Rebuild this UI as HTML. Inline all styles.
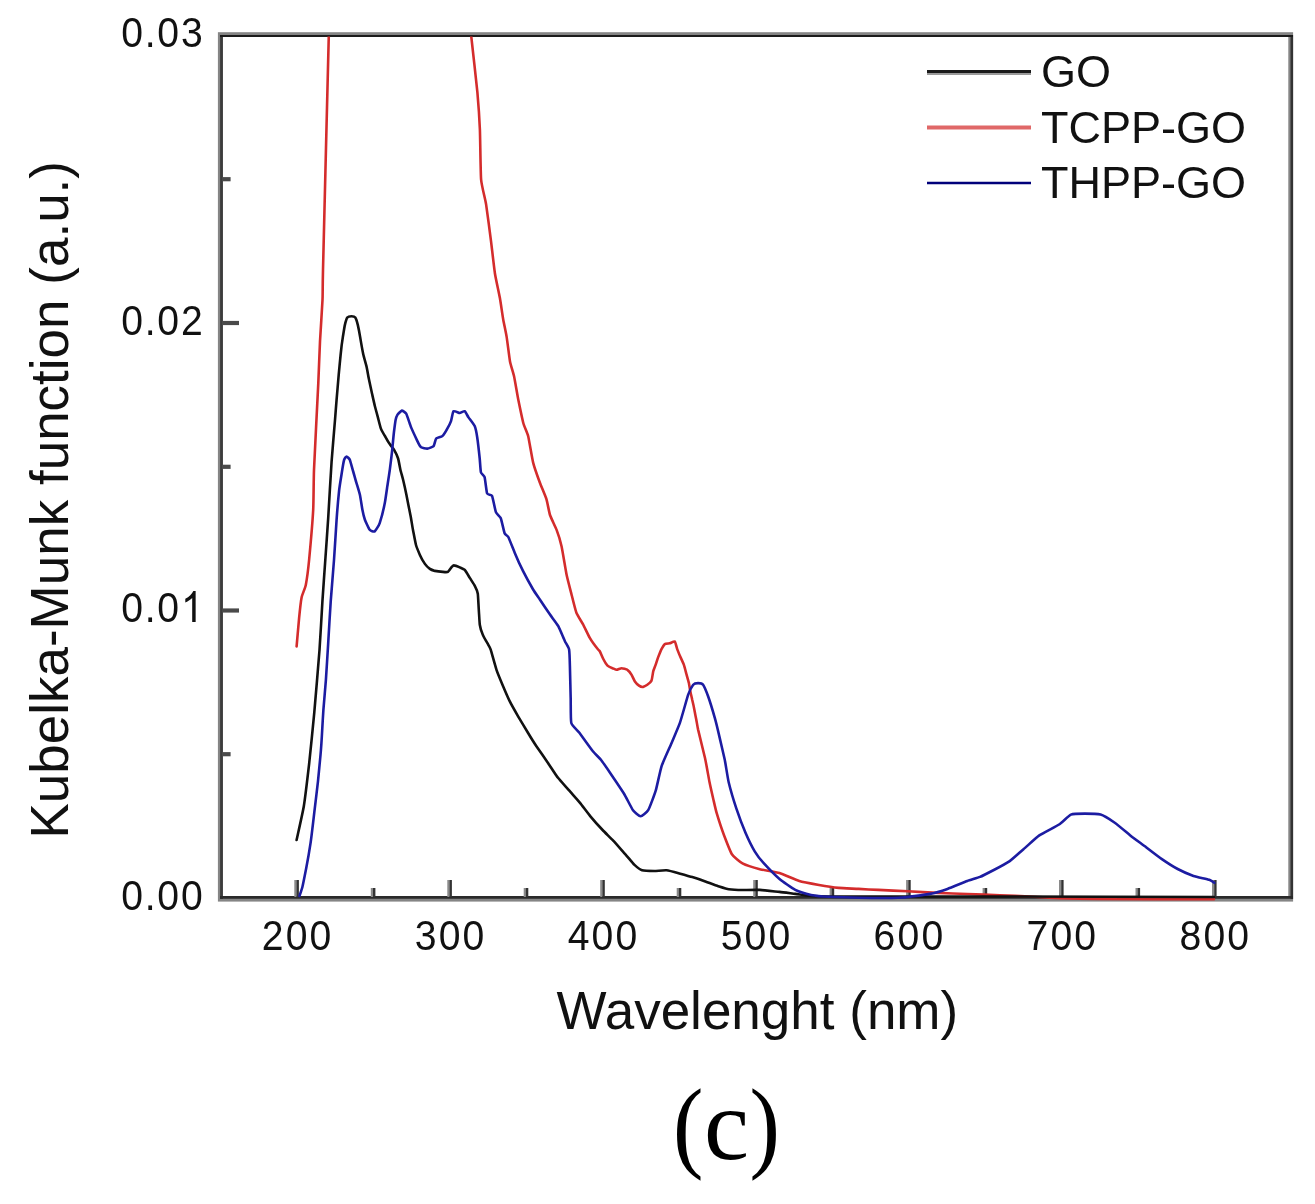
<!DOCTYPE html>
<html><head><meta charset="utf-8"><style>
html,body{margin:0;padding:0;background:#fff;}
body{width:1315px;height:1204px;overflow:hidden;}
svg{display:block;filter:blur(0.45px);}
text{font-family:"Liberation Sans",sans-serif;fill:#111;}
text.serif{font-family:"Liberation Serif",serif;fill:#000;}
</style></head><body>
<svg width="1315" height="1204" viewBox="0 0 1315 1204">
<rect x="0" y="0" width="1315" height="1204" fill="#fff"/>
<defs><clipPath id="pc"><rect x="222.5" y="36.5" width="1067.5" height="864.5"/></clipPath></defs>
<g fill="none">
<rect x="220.3" y="34.6" width="1070.4" height="864.6" stroke="#858585" stroke-width="4.8"/>
<line x1="221.5" y1="35" x2="221.5" y2="899" stroke="#3c3c3c" stroke-width="2.8"/>
<line x1="1291.8" y1="35" x2="1291.8" y2="899" stroke="#333" stroke-width="2.6"/>
<line x1="220" y1="36" x2="1293" y2="36" stroke="#1c1c1c" stroke-width="2.2"/>
<line x1="220" y1="897.4" x2="1293" y2="897.4" stroke="#2a2a2a" stroke-width="2.8"/>
</g>
<g stroke="#4a4a4a" stroke-width="4.2">
<line x1="295.5" y1="880" x2="295.5" y2="897" stroke="#8a8a8a" stroke-width="2.4"/><line x1="297.7" y1="880" x2="297.7" y2="897" stroke="#333" stroke-width="2.4"/><line x1="372.0" y1="888" x2="372.0" y2="897" stroke="#8a8a8a" stroke-width="2.4"/><line x1="374.2" y1="888" x2="374.2" y2="897" stroke="#333" stroke-width="2.4"/><line x1="448.5" y1="880" x2="448.5" y2="897" stroke="#8a8a8a" stroke-width="2.4"/><line x1="450.7" y1="880" x2="450.7" y2="897" stroke="#333" stroke-width="2.4"/><line x1="524.9" y1="888" x2="524.9" y2="897" stroke="#8a8a8a" stroke-width="2.4"/><line x1="527.1" y1="888" x2="527.1" y2="897" stroke="#333" stroke-width="2.4"/><line x1="601.4" y1="880" x2="601.4" y2="897" stroke="#8a8a8a" stroke-width="2.4"/><line x1="603.6" y1="880" x2="603.6" y2="897" stroke="#333" stroke-width="2.4"/><line x1="677.9" y1="888" x2="677.9" y2="897" stroke="#8a8a8a" stroke-width="2.4"/><line x1="680.1" y1="888" x2="680.1" y2="897" stroke="#333" stroke-width="2.4"/><line x1="754.4" y1="880" x2="754.4" y2="897" stroke="#8a8a8a" stroke-width="2.4"/><line x1="756.6" y1="880" x2="756.6" y2="897" stroke="#333" stroke-width="2.4"/><line x1="830.8" y1="888" x2="830.8" y2="897" stroke="#8a8a8a" stroke-width="2.4"/><line x1="833.0" y1="888" x2="833.0" y2="897" stroke="#333" stroke-width="2.4"/><line x1="907.3" y1="880" x2="907.3" y2="897" stroke="#8a8a8a" stroke-width="2.4"/><line x1="909.5" y1="880" x2="909.5" y2="897" stroke="#333" stroke-width="2.4"/><line x1="983.8" y1="888" x2="983.8" y2="897" stroke="#8a8a8a" stroke-width="2.4"/><line x1="986.0" y1="888" x2="986.0" y2="897" stroke="#333" stroke-width="2.4"/><line x1="1060.2" y1="880" x2="1060.2" y2="897" stroke="#8a8a8a" stroke-width="2.4"/><line x1="1062.4" y1="880" x2="1062.4" y2="897" stroke="#333" stroke-width="2.4"/><line x1="1136.7" y1="888" x2="1136.7" y2="897" stroke="#8a8a8a" stroke-width="2.4"/><line x1="1138.9" y1="888" x2="1138.9" y2="897" stroke="#333" stroke-width="2.4"/><line x1="1213.2" y1="880" x2="1213.2" y2="897" stroke="#8a8a8a" stroke-width="2.4"/><line x1="1215.4" y1="880" x2="1215.4" y2="897" stroke="#333" stroke-width="2.4"/><line x1="222" y1="754.2" x2="230.6" y2="754.2" /><line x1="222" y1="610.5" x2="239" y2="610.5" /><line x1="222" y1="466.8" x2="230.6" y2="466.8" /><line x1="222" y1="323.0" x2="239" y2="323.0" /><line x1="222" y1="179.2" x2="230.6" y2="179.2" />
</g>
<g clip-path="url(#pc)" fill="none" stroke-linejoin="round" stroke-linecap="round">
<path d="M296.6,646.4 C296.8,644.0 298.7,622.3 299.1,618.2 C299.5,614.1 301.0,600.2 301.6,597.4 C302.2,594.6 305.2,588.0 305.8,584.9 C306.4,581.8 308.5,566.3 309.1,560.0 C309.7,553.7 312.8,517.3 313.2,509.8 C313.6,502.3 313.6,480.6 314.0,470.0 C314.4,459.4 317.8,393.8 318.3,383.1 C318.8,372.4 319.6,348.4 320.0,341.5 C320.4,334.6 322.2,306.0 322.5,300.0 C322.8,294.0 322.5,292.1 323.0,270.0 C323.5,247.9 328.3,54.6 328.8,35.0" stroke="#d42c2c" stroke-width="2.6"/>
<path d="M471.1,35.0 C471.6,39.8 476.7,84.4 477.4,92.3 C478.1,100.2 479.6,122.4 479.9,129.7 C480.2,137.0 480.6,173.3 481.1,179.5 C481.6,185.7 485.3,199.2 486.1,204.4 C486.9,209.6 490.4,236.1 491.1,241.8 C491.8,247.5 494.2,268.5 494.9,273.2 C495.6,277.9 499.2,294.2 499.9,298.1 C500.6,302.0 502.7,316.8 503.3,320.0 C503.9,323.2 506.0,333.1 506.6,336.6 C507.2,340.1 509.4,358.2 510.0,361.5 C510.6,364.8 513.4,373.3 514.1,376.5 C514.8,379.7 517.5,395.8 518.3,399.7 C519.1,403.6 522.5,419.9 523.3,423.0 C524.1,426.1 527.4,433.0 528.2,436.3 C529.0,439.6 532.2,459.0 533.2,462.9 C534.2,466.8 538.8,479.8 539.9,482.8 C541.0,485.8 545.7,496.7 546.5,499.4 C547.3,502.1 549.2,512.5 550.0,515.0 C550.8,517.5 555.6,527.3 556.6,529.9 C557.6,532.5 560.8,542.8 561.6,546.5 C562.4,550.2 565.8,570.8 566.6,574.8 C567.4,578.8 570.8,591.5 571.6,594.7 C572.4,597.9 575.5,610.5 576.5,613.0 C577.5,615.5 582.1,622.5 583.2,624.6 C584.3,626.7 588.6,635.8 589.8,637.9 C591.0,640.0 597.2,648.4 598.1,649.5 C599.0,650.6 599.6,650.8 600.0,651.6 C600.4,652.4 602.7,657.8 603.3,659.0 C603.9,660.2 606.7,664.9 607.5,665.7 C608.3,666.5 611.7,667.9 612.5,668.2 C613.3,668.5 615.8,669.8 616.6,669.8 C617.4,669.8 620.7,668.2 621.6,668.2 C622.5,668.2 626.6,669.2 627.4,669.8 C628.2,670.3 631.0,673.8 631.6,674.8 C632.2,675.8 634.3,680.6 634.9,681.5 C635.5,682.4 638.3,685.1 639.0,685.6 C639.7,686.1 642.5,687.0 643.2,686.9 C643.9,686.8 646.6,685.3 647.3,684.8 C648.0,684.3 651.0,681.7 651.5,680.6 C652.0,679.5 652.9,672.8 653.2,671.5 C653.5,670.2 655.2,666.1 655.6,664.9 C656.0,663.7 657.6,658.7 658.1,657.4 C658.6,656.1 660.9,650.2 661.5,649.1 C662.1,648.0 664.1,644.6 664.8,644.1 C665.5,643.6 669.0,643.5 669.8,643.3 C670.6,643.1 674.2,641.1 674.8,641.6 C675.4,642.1 676.7,647.8 677.2,649.1 C677.7,650.4 680.0,656.1 680.6,657.4 C681.2,658.7 683.4,663.5 683.9,664.9 C684.4,666.3 686.0,672.5 686.4,674.0 C686.8,675.5 688.6,681.6 688.9,683.1 C689.2,684.6 690.2,690.9 690.5,692.3 C690.8,693.7 691.9,698.1 692.2,699.7 C692.6,701.3 694.4,709.7 694.7,711.4 C695.0,713.1 696.0,718.2 696.3,719.7 C696.6,721.2 697.4,726.4 698.1,729.6 C698.8,732.8 704.0,753.6 705.0,758.0 C706.0,762.4 708.8,778.5 709.5,782.0 C710.2,785.5 712.9,797.4 713.5,800.0 C714.1,802.6 715.8,810.2 716.7,813.2 C717.6,816.2 723.0,832.6 724.3,836.0 C725.6,839.4 730.4,852.0 731.9,854.3 C733.4,856.6 740.2,862.2 742.5,863.4 C744.8,864.6 756.7,868.4 759.8,869.2 C762.9,870.0 776.2,872.1 779.5,873.1 C782.8,874.1 796.0,880.0 799.3,881.0 C802.6,882.0 815.7,884.4 819.0,885.0 C822.3,885.6 835.5,887.6 838.8,887.9 C842.1,888.2 855.3,888.7 858.6,888.9 C861.9,889.1 874.2,889.7 878.3,889.9 C882.4,890.1 903.1,891.0 908.0,891.3 C912.9,891.5 932.7,892.7 937.6,892.9 C942.5,893.1 962.1,893.8 967.3,894.0 C972.5,894.2 994.8,895.1 1000.0,895.3 C1005.2,895.5 1025.0,896.3 1030.0,896.5 C1035.0,896.7 1054.2,898.0 1060.0,898.2 C1065.8,898.4 1087.2,898.9 1100.0,899.0 C1112.8,899.1 1204.5,899.3 1214.0,899.3" stroke="#d42c2c" stroke-width="2.6"/>
<path d="M296.6,840.0 C297.2,837.1 302.9,812.1 303.9,805.8 C304.9,799.5 308.2,772.0 309.1,764.2 C310.0,756.4 313.4,721.8 314.3,712.3 C315.2,702.8 318.8,659.2 319.5,650.0 C320.2,640.8 321.9,609.1 322.4,601.6 C322.9,594.1 324.8,567.0 325.3,560.0 C325.8,553.0 327.7,526.3 328.2,518.1 C328.7,509.9 331.0,469.7 331.6,461.5 C332.2,453.3 334.6,425.1 335.0,420.0 C335.4,414.9 336.3,403.5 336.6,399.7 C336.9,395.9 338.4,378.6 338.7,374.8 C339.0,371.0 340.4,357.1 340.7,354.0 C341.0,350.9 342.4,339.8 342.8,337.4 C343.2,335.0 344.5,326.6 344.9,324.9 C345.3,323.2 346.8,318.1 347.4,317.4 C347.9,316.7 350.8,316.2 351.5,316.2 C352.2,316.2 354.8,316.7 355.3,317.4 C355.8,318.1 357.4,323.2 357.8,324.9 C358.2,326.6 359.8,335.0 360.2,337.4 C360.6,339.8 362.7,351.6 363.2,354.0 C363.7,356.4 366.0,364.3 366.5,366.4 C367.0,368.5 368.5,377.2 369.0,379.5 C369.5,381.8 371.5,391.3 372.0,393.5 C372.5,395.7 374.4,404.2 374.9,406.2 C375.4,408.2 377.4,415.5 377.9,417.4 C378.4,419.3 380.3,427.0 380.9,428.6 C381.5,430.2 384.6,435.5 385.4,436.8 C386.1,438.1 389.1,443.2 389.9,444.3 C390.6,445.4 393.7,449.1 394.4,450.3 C395.1,451.5 397.6,456.9 398.1,458.5 C398.6,460.1 400.0,467.9 400.4,469.7 C400.8,471.5 402.6,477.7 403.1,479.8 C403.6,481.9 405.8,491.8 406.4,494.8 C407.0,497.8 409.9,512.6 410.5,515.5 C411.1,518.4 412.5,527.5 413.0,530.0 C413.5,532.5 415.4,542.9 416.0,545.0 C416.6,547.1 419.2,553.3 419.9,554.9 C420.6,556.5 424.1,562.7 424.9,563.9 C425.7,565.1 429.1,568.3 429.9,568.9 C430.7,569.5 433.8,570.6 434.9,570.9 C436.0,571.1 441.8,571.8 442.9,571.9 C444.0,572.0 447.2,572.3 447.9,571.9 C448.6,571.5 451.3,567.4 451.8,566.9 C452.3,566.4 453.1,565.4 453.8,565.4 C454.5,565.4 458.9,567.0 459.8,567.4 C460.7,567.8 464.0,569.0 464.8,569.9 C465.6,570.8 469.0,576.6 469.8,577.9 C470.6,579.2 474.1,584.5 474.8,585.8 C475.5,587.1 477.5,591.8 477.8,593.8 C478.1,595.8 478.6,607.2 478.8,609.8 C479.0,612.4 479.5,622.6 479.8,624.7 C480.1,626.8 482.1,633.1 482.8,634.7 C483.5,636.3 487.0,642.5 487.7,643.7 C488.4,644.9 490.0,647.4 490.7,649.6 C491.4,651.8 495.5,666.7 496.5,669.8 C497.5,672.9 502.1,683.8 503.2,686.4 C504.3,689.0 508.6,698.9 509.8,701.4 C511.0,703.9 516.6,713.7 518.1,716.3 C519.6,718.9 526.6,730.5 528.1,733.0 C529.6,735.5 534.7,743.7 536.4,746.2 C538.1,748.7 546.2,760.3 548.0,762.9 C549.8,765.5 556.2,775.5 558.0,777.8 C559.8,780.1 567.3,788.3 569.1,790.4 C570.9,792.5 578.0,800.4 579.8,802.6 C581.6,804.8 588.5,814.0 590.4,816.3 C592.3,818.6 600.7,828.0 602.6,830.0 C604.5,832.0 611.3,838.6 613.2,840.6 C615.1,842.6 623.6,852.3 625.4,854.3 C627.2,856.3 633.1,863.6 634.5,864.9 C635.9,866.2 640.5,869.8 642.1,870.3 C643.8,870.8 652.3,871.0 654.3,871.0 C656.3,871.0 664.5,870.1 666.5,870.3 C668.5,870.5 676.5,872.7 678.6,873.3 C680.8,873.9 690.0,876.4 692.3,877.1 C694.6,877.8 703.8,880.9 706.0,881.7 C708.2,882.5 716.3,885.6 718.2,886.2 C720.1,886.8 726.8,889.0 728.8,889.3 C730.8,889.6 739.9,890.0 742.5,890.0 C745.1,890.0 756.7,889.7 759.8,889.9 C762.9,890.1 776.5,891.6 779.5,891.9 C782.5,892.2 792.8,893.6 795.3,893.9 C797.8,894.2 806.3,895.6 809.2,895.8 C812.1,896.0 822.4,896.4 830.0,896.5 C837.6,896.6 885.8,896.5 900.0,896.5 C914.2,896.5 973.8,896.5 1000.0,896.5 C1026.2,896.5 1196.2,897.0 1214.0,897.0" stroke="#111" stroke-width="2.6"/>
<path d="M299.5,896.0 C299.7,895.2 301.8,889.3 302.4,887.0 C303.0,884.7 305.5,871.9 306.2,868.3 C306.9,864.7 309.8,848.1 310.5,843.4 C311.2,838.7 313.7,817.5 314.3,812.3 C314.9,807.1 317.5,785.9 318.0,781.1 C318.5,776.3 320.1,759.3 320.5,755.0 C320.9,750.7 322.0,733.8 322.2,730.0 C322.4,726.2 323.1,714.0 323.4,709.8 C323.7,705.6 325.5,685.5 325.9,679.9 C326.3,674.3 327.8,649.6 328.2,643.1 C328.6,636.6 330.2,608.5 330.7,601.6 C331.2,594.7 333.5,566.8 334.0,560.0 C334.5,553.2 336.2,525.5 336.6,519.7 C337.0,513.9 338.7,494.4 339.1,490.6 C339.5,486.8 341.2,476.6 341.6,474.0 C342.0,471.4 343.7,461.4 344.1,459.9 C344.5,458.4 346.1,456.5 346.6,456.5 C347.1,456.5 349.3,458.6 349.9,459.9 C350.4,461.1 352.6,469.6 353.2,471.5 C353.8,473.4 355.9,481.2 356.5,483.1 C357.1,485.0 359.4,492.6 359.9,494.8 C360.4,497.0 362.0,507.6 362.4,509.7 C362.8,511.8 364.3,518.0 364.9,519.7 C365.5,521.4 368.9,528.8 369.7,529.8 C370.5,530.8 373.9,532.0 374.7,531.4 C375.5,530.8 378.9,525.5 379.7,523.1 C380.5,520.7 384.2,506.2 384.8,503.1 C385.4,500.0 386.9,489.2 387.3,486.4 C387.7,483.6 389.4,472.9 389.8,469.8 C390.2,466.7 392.0,452.2 392.3,449.1 C392.6,446.0 393.6,434.9 393.9,432.5 C394.2,430.1 395.3,421.5 395.6,420.0 C395.9,418.5 396.9,415.7 397.4,414.9 C397.9,414.1 401.1,410.7 401.8,410.6 C402.5,410.5 405.4,412.3 406.2,413.7 C407.0,415.1 410.2,425.1 411.1,427.4 C412.0,429.7 416.6,439.4 417.4,441.1 C418.2,442.8 420.3,446.7 421.1,447.3 C421.9,447.9 426.3,448.7 427.3,448.6 C428.3,448.5 432.9,446.9 433.6,446.1 C434.3,445.3 435.4,439.4 436.1,438.6 C436.8,437.8 441.4,436.9 442.3,436.1 C443.2,435.3 446.6,429.9 447.3,428.6 C448.0,427.4 450.5,422.6 451.0,421.1 C451.5,419.7 452.8,411.9 453.5,411.2 C454.2,410.5 458.8,413.0 459.7,413.0 C460.6,413.0 464.0,410.8 464.7,411.2 C465.4,411.6 467.7,416.2 468.5,417.4 C469.3,418.6 474.0,424.4 474.7,426.1 C475.4,427.8 476.8,434.6 477.2,437.3 C477.6,440.0 479.4,455.6 479.7,458.5 C480.0,461.4 480.5,470.6 480.9,472.2 C481.3,473.8 484.1,475.4 484.6,477.2 C485.1,479.0 486.5,491.8 487.1,493.4 C487.7,495.0 491.4,494.3 492.1,495.9 C492.8,497.5 495.2,510.2 495.9,512.1 C496.6,514.0 500.1,516.5 500.8,518.3 C501.5,520.1 504.0,531.7 504.6,533.3 C505.2,534.9 507.5,535.4 508.3,537.0 C509.1,538.6 513.6,550.0 514.8,552.9 C516.0,555.8 521.6,568.2 523.1,571.2 C524.6,574.2 531.7,587.1 533.1,589.5 C534.5,591.9 538.6,597.6 540.0,599.7 C541.4,601.8 548.5,612.4 550.0,614.6 C551.5,616.8 557.1,624.0 558.3,626.2 C559.5,628.4 564.0,639.3 564.9,641.2 C565.8,643.1 568.7,647.4 569.1,649.5 C569.5,651.6 569.8,662.0 569.9,666.1 C570.0,670.2 570.6,694.6 570.7,699.3 C570.8,704.0 570.6,720.2 571.3,723.0 C572.0,725.8 577.8,730.6 579.6,733.0 C581.4,735.4 591.1,749.0 592.9,751.2 C594.7,753.5 599.5,758.0 601.1,760.0 C602.7,762.0 609.8,772.4 611.7,775.2 C613.6,778.0 622.1,790.6 623.9,793.5 C625.7,796.4 631.6,808.3 633.0,810.2 C634.4,812.1 639.3,816.3 640.6,816.3 C641.9,816.3 646.9,812.4 648.2,810.2 C649.5,808.0 654.7,794.1 655.8,790.4 C656.9,786.7 660.3,770.1 661.6,766.1 C662.9,762.1 670.1,746.5 671.6,742.9 C673.1,739.3 678.5,726.9 679.9,722.9 C681.3,718.9 687.1,697.9 688.2,694.7 C689.3,691.5 692.4,685.7 693.2,684.7 C694.0,683.7 697.3,683.1 698.1,683.1 C698.9,683.1 702.3,683.6 703.1,684.7 C703.9,685.8 707.1,693.5 708.1,696.3 C709.1,699.1 713.8,714.4 714.8,717.9 C715.8,721.4 718.9,734.4 719.7,737.9 C720.5,741.4 723.9,755.8 724.7,759.5 C725.5,763.2 727.8,778.7 728.8,782.8 C729.8,786.9 735.0,804.5 736.4,808.7 C737.8,812.9 744.1,829.5 745.6,833.0 C747.1,836.5 753.2,848.8 754.7,851.3 C756.2,853.8 761.6,860.9 763.7,863.2 C765.8,865.5 776.9,876.8 779.5,879.0 C782.1,881.2 792.7,888.6 795.3,889.9 C797.9,891.2 808.3,894.3 811.1,894.9 C813.9,895.5 824.9,896.6 828.9,896.8 C832.9,897.0 852.8,897.7 858.6,897.8 C864.4,897.9 892.2,898.1 898.1,897.8 C904.0,897.5 925.6,894.6 929.7,893.9 C933.8,893.2 944.4,890.0 947.5,888.9 C950.6,887.8 964.6,882.0 967.3,881.0 C970.0,880.0 977.8,877.8 980.0,876.9 C982.2,876.0 991.3,871.3 993.8,870.0 C996.3,868.7 1007.2,862.8 1009.7,861.1 C1012.2,859.4 1021.0,851.3 1023.5,849.2 C1026.0,847.1 1036.3,837.5 1039.3,835.4 C1042.3,833.3 1056.5,826.2 1059.1,824.5 C1061.7,822.8 1068.8,815.5 1070.9,814.6 C1073.0,813.7 1082.3,813.6 1084.8,813.6 C1087.3,813.6 1098.1,813.9 1100.6,814.6 C1103.1,815.3 1111.9,820.8 1114.4,822.5 C1116.9,824.2 1127.7,833.3 1130.3,835.4 C1132.9,837.5 1143.5,845.2 1146.1,847.2 C1148.7,849.2 1159.3,857.3 1161.9,859.1 C1164.5,860.9 1175.1,867.6 1177.7,869.0 C1180.3,870.4 1190.9,875.0 1193.5,875.9 C1196.1,876.8 1207.6,879.2 1209.3,879.8 C1211.0,880.4 1213.9,882.5 1214.3,882.8" stroke="#1c1ca2" stroke-width="2.6"/>
</g>
<g font-size="43">
<text transform="translate(272.69,949.5) scale(0.91,1)" text-anchor="middle">2</text><text transform="translate(296.60,949.5) scale(0.91,1)" text-anchor="middle">0</text><text transform="translate(320.51,949.5) scale(0.91,1)" text-anchor="middle">0</text><text transform="translate(425.64,949.5) scale(0.91,1)" text-anchor="middle">3</text><text transform="translate(449.55,949.5) scale(0.91,1)" text-anchor="middle">0</text><text transform="translate(473.46,949.5) scale(0.91,1)" text-anchor="middle">0</text><text transform="translate(578.59,949.5) scale(0.91,1)" text-anchor="middle">4</text><text transform="translate(602.50,949.5) scale(0.91,1)" text-anchor="middle">0</text><text transform="translate(626.41,949.5) scale(0.91,1)" text-anchor="middle">0</text><text transform="translate(731.54,949.5) scale(0.91,1)" text-anchor="middle">5</text><text transform="translate(755.45,949.5) scale(0.91,1)" text-anchor="middle">0</text><text transform="translate(779.36,949.5) scale(0.91,1)" text-anchor="middle">0</text><text transform="translate(884.49,949.5) scale(0.91,1)" text-anchor="middle">6</text><text transform="translate(908.40,949.5) scale(0.91,1)" text-anchor="middle">0</text><text transform="translate(932.31,949.5) scale(0.91,1)" text-anchor="middle">0</text><text transform="translate(1037.44,949.5) scale(0.91,1)" text-anchor="middle">7</text><text transform="translate(1061.35,949.5) scale(0.91,1)" text-anchor="middle">0</text><text transform="translate(1085.26,949.5) scale(0.91,1)" text-anchor="middle">0</text><text transform="translate(1190.39,949.5) scale(0.91,1)" text-anchor="middle">8</text><text transform="translate(1214.30,949.5) scale(0.91,1)" text-anchor="middle">0</text><text transform="translate(1238.21,949.5) scale(0.91,1)" text-anchor="middle">0</text>
<text transform="translate(132.17,909.5) scale(0.91,1)" text-anchor="middle">0</text><text transform="translate(150.10,909.5) scale(0.91,1)" text-anchor="middle">.</text><text transform="translate(168.03,909.5) scale(0.91,1)" text-anchor="middle">0</text><text transform="translate(191.94,909.5) scale(0.91,1)" text-anchor="middle">0</text><text transform="translate(132.17,622.0) scale(0.91,1)" text-anchor="middle">0</text><text transform="translate(150.10,622.0) scale(0.91,1)" text-anchor="middle">.</text><text transform="translate(168.03,622.0) scale(0.91,1)" text-anchor="middle">0</text><path transform="translate(191.94,622.0) scale(0.01911,-0.02100) translate(-569.5,0)" d="M763 0H583V1147Q518 1085 412 1023T222 930V1104Q372 1175 484 1276T643 1472H763V0Z" fill="#111"/><text transform="translate(132.17,334.5) scale(0.91,1)" text-anchor="middle">0</text><text transform="translate(150.10,334.5) scale(0.91,1)" text-anchor="middle">.</text><text transform="translate(168.03,334.5) scale(0.91,1)" text-anchor="middle">0</text><text transform="translate(191.94,334.5) scale(0.91,1)" text-anchor="middle">2</text><text transform="translate(132.17,47.0) scale(0.91,1)" text-anchor="middle">0</text><text transform="translate(150.10,47.0) scale(0.91,1)" text-anchor="middle">.</text><text transform="translate(168.03,47.0) scale(0.91,1)" text-anchor="middle">0</text><text transform="translate(191.94,47.0) scale(0.91,1)" text-anchor="middle">3</text>
</g>
<text x="757.4" y="1028.5" font-size="53" text-anchor="middle">Wavelenght (nm)</text>
<text transform="translate(67.5,499.8) rotate(-90)" font-size="53" text-anchor="middle">Kubelka-Munk function (a.u.)</text>
<g fill="none">
<line x1="927" y1="74" x2="1031" y2="74" stroke="#9a9a9a" stroke-width="2"/>
<line x1="927" y1="71.5" x2="1031" y2="71.5" stroke="#1a1a1a" stroke-width="2.8"/>
<line x1="927" y1="127.5" x2="1031" y2="127.5" stroke="#e06868" stroke-width="4"/>
<line x1="927" y1="183" x2="1031" y2="183" stroke="#00007a" stroke-width="2.6"/>
</g>
<g font-size="45">
<text x="1041" y="86.5">GO</text>
<text x="1041" y="142.5">TCPP-GO</text>
<text x="1041" y="198">THPP-GO</text>
</g>
<g style="font-family:'Liberation Serif',serif;" font-size="101.5" fill="#000">
<text transform="translate(673,1158.5) scale(0.9,1)" class="serif">(</text>
<text x="704" y="1158.5" class="serif">c</text>
<text transform="translate(749.6,1158.5) scale(0.9,1)" class="serif">)</text>
</g>
</svg>
</body></html>
